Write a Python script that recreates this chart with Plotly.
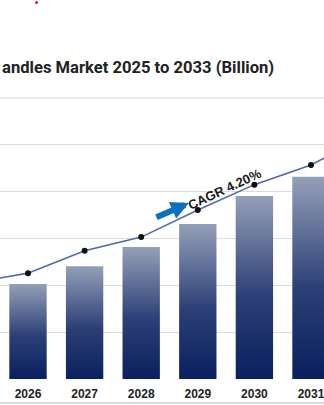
import plotly.graph_objects as go

years = [2025, 2026, 2027, 2028, 2029, 2030, 2031, 2032, 2033]
bar_values = [1.70, 2.03, 2.41, 2.82, 3.31, 3.91, 4.32, 4.80, 5.30]
line_values = [2.05, 2.26, 2.74, 3.03, 3.61, 4.15, 4.57, 5.21, 5.70]
title_text = "<b>andles Market 2025 to 2033 (Billion)</b>"
cagr_text = "<b>CAGR 4.20%</b>"

W, H = 324, 405
top, bottom = 98, 379
half_w = 0.33

fig = go.Figure()
for yr, v in zip(years, bar_values):
    fig.add_trace(go.Scatter(
        x=[yr - half_w, yr + half_w, yr + half_w, yr - half_w, yr - half_w],
        y=[0, 0, v, v, 0],
        mode="lines", line=dict(width=0), fill="toself",
        fillgradient=dict(type="vertical",
                          colorscale=[[0, "#0a1f5f"], [0.45, "#2c3f76"], [1, "#949fb8"]]),
        hoverinfo="skip", showlegend=False))

fig.add_trace(go.Scatter(
    x=years, y=line_values, mode="lines+markers",
    line=dict(color="#5068ad", width=1.6),
    marker=dict(color="#111111", size=6),
    showlegend=False))

x0 = 2026 - 28 / 56.6
x1 = x0 + W / 56.6

fig.update_layout(
    width=W, height=H,
    margin=dict(l=0, r=0, t=top, b=H - bottom, pad=0),
    paper_bgcolor="white", plot_bgcolor="white",
    xaxis=dict(range=[x0, x1], tickmode="array", tickvals=years,
               ticktext=["<b>%d</b>" % y for y in years],
               tickfont=dict(family="Liberation Sans", size=12, color="#222222"),
               ticklabelstandoff=6, ticklabeloverflow="allow",
               showgrid=False, zeroline=False, showline=False, ticks=""),
    yaxis=dict(range=[0, 6], dtick=1, showgrid=True, gridcolor="#dcdcdc",
               gridwidth=1, zeroline=False, showticklabels=False, showline=False),
)

ph = bottom - top
def py(pix):
    return (bottom - pix) / ph

fig.add_annotation(text=title_text, xref="paper", yref="paper",
                   x=0, y=py(67), xanchor="left", yanchor="middle", showarrow=False,
                   font=dict(family="Roboto", size=16.6, color="#222222"))

fig.add_annotation(text=cagr_text, xref="paper", yref="paper",
                   x=224 / W, y=py(189), xanchor="center", yanchor="middle",
                   showarrow=False, textangle=-25,
                   font=dict(family="Liberation Sans", size=13, color="#1a1a1a"))

fig.add_annotation(text="", xref="paper", yref="paper",
                   x=189 / W, y=py(203), ax=-34, ay=15, showarrow=True,
                   arrowhead=2, arrowsize=0.6, arrowwidth=6, arrowcolor="#0d6fc0")

fig.add_shape(type="line", xref="paper", yref="paper", x0=0, x1=1,
              y0=py(403), y1=py(403), line=dict(color="#d0d0d0", width=1.5))
fig.add_shape(type="line", xref="paper", yref="paper", x0=0, x1=1,
              y0=py(98), y1=py(98), line=dict(color="#e6e6e6", width=1.5))
fig.add_shape(type="circle", xref="paper", yref="paper",
              x0=35 / W, x1=38 / W, y0=py(4), y1=py(1),
              fillcolor="#d02030", line=dict(width=0))

fig.write_html("out.html")
